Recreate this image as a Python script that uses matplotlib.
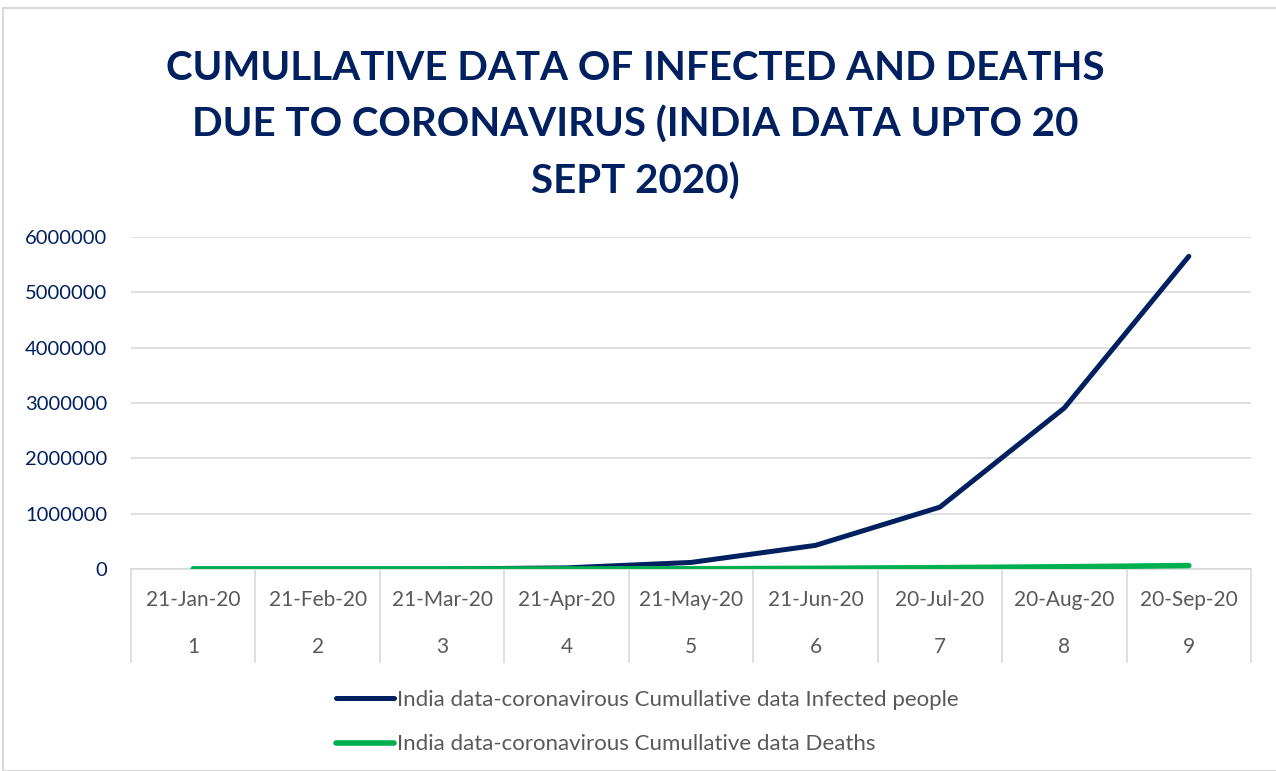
import matplotlib
matplotlib.use("Agg")
import matplotlib.pyplot as plt
from matplotlib.lines import Line2D
from matplotlib.patches import Rectangle
from matplotlib.ticker import FuncFormatter
import matplotlib.transforms as mtransforms

dates = ['21-Jan-20', '21-Feb-20', '21-Mar-20', '21-Apr-20', '21-May-20',
         '21-Jun-20', '20-Jul-20', '20-Aug-20', '20-Sep-20']
months = [1, 2, 3, 4, 5, 6, 7, 8, 9]
infected = [1, 3, 330, 20080, 118450, 426910, 1118000, 2910000, 5650000]
deaths = [0, 0, 7, 640, 3580, 12000, 24000, 40000, 62000]

navy = '#002060'
green = '#00B050'
gray = '#595959'
grid = '#D9D9D9'

plt.rcParams['font.family'] = ['Lato', 'DejaVu Sans']

fig = plt.figure(figsize=(12.76, 7.71), dpi=100)
fig.patches.append(Rectangle((3 / 1276, 0), 1.2, 1 - 8 / 771, transform=fig.transFigure,
                             fill=False, edgecolor=grid, linewidth=1.5))

ax = fig.add_axes([131 / 1276, 1 - 569 / 771, 1120 / 1276, 332 / 771])
ax.plot(months, infected, color=navy, linewidth=3.6, solid_capstyle='round', zorder=3)
ax.plot(months, deaths, color=green, linewidth=4.0, solid_capstyle='round', zorder=4)

ax.set_xlim(0.5, 9.5)
ax.set_ylim(0, 6000000)
ax.set_yticks(range(0, 6000001, 1000000))
ax.yaxis.set_major_formatter(FuncFormatter(lambda v, p: f'{int(v)}'))
ax.tick_params(axis='y', length=0, pad=17, labelsize=14.5, labelcolor=navy)
ax.grid(axis='y', color=grid, linewidth=1.2)
ax.set_axisbelow(True)
for s in ['top', 'right', 'left']:
    ax.spines[s].set_visible(False)
ax.spines['bottom'].set_color(grid)
ax.spines['bottom'].set_linewidth(1.2)

ax.set_xticks([])
trans = mtransforms.blended_transform_factory(ax.transData, ax.transAxes)
for m, d in zip(months, dates):
    ax.text(m, -0.093, d, transform=trans, ha='center', va='center', fontsize=15, color=gray)
    ax.text(m, -0.235, str(m), transform=trans, ha='center', va='center', fontsize=15, color=gray)
for b in [m - 0.5 for m in months] + [months[-1] + 0.5]:
    ax.plot([b, b], [0, -0.28], transform=trans, color=grid, linewidth=1.2, clip_on=False)

fig.text(0.498, 1 - 125 / 771,
         'CUMULLATIVE DATA OF INFECTED AND DEATHS\nDUE TO CORONAVIRUS (INDIA DATA UPTO 20\nSEPT 2020)',
         ha='center', va='center', fontsize=29, fontweight='bold', color=navy, linespacing=1.6)

handles = [Line2D([], [], color=navy, linewidth=3.6, solid_capstyle='round'),
           Line2D([], [], color=green, linewidth=4.0, solid_capstyle='round')]
labels = ['India data-coronavirous Cumullative data Infected people',
          'India data-coronavirous Cumullative data Deaths']
leg = fig.legend(handles, labels, loc='upper left', bbox_to_anchor=(327 / 1276, 1 - 681 / 771),
                 frameon=False, fontsize=16, handlelength=2.6, handletextpad=0.15,
                 labelspacing=1.1, borderaxespad=0)
for t in leg.get_texts():
    t.set_color(gray)

fig.savefig('out.png', dpi=100)
